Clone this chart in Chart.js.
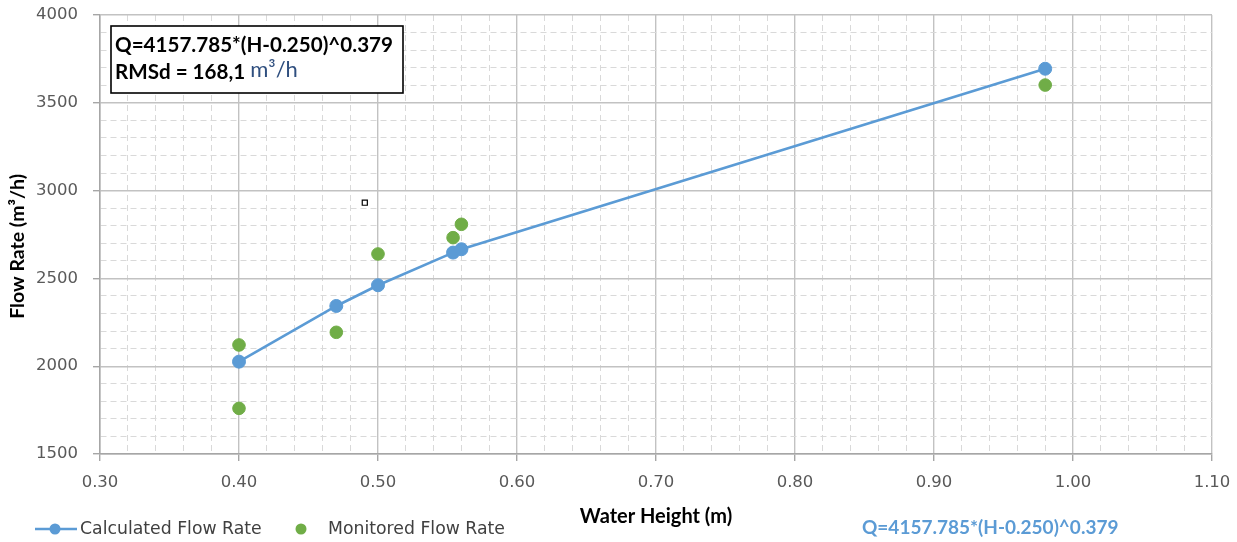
<!DOCTYPE html>
<html lang="en">
<head>
<meta charset="UTF-8">
<title>Flow Rate vs Water Height</title>
<script src="https://cdn.jsdelivr.net/npm/chart.js"></script>
<style>
  body { margin: 0; background: #fff; }
  #wrap { width: 1237px; height: 542px; }
</style>
</head>
<body>
<div id="wrap"><canvas id="flowChart" width="1237" height="542"></canvas></div>
<script>
// values
const calcHeight = [0.40, 0.47, 0.50, 0.554, 0.56, 0.98];
const calcFlow   = [2026, 2343, 2461, 2647, 2666, 3694];
const monHeight  = [0.40, 0.40, 0.47, 0.50, 0.554, 0.56, 0.98];
const monFlow    = [2121, 1760, 2193, 2639, 2732, 2808, 3601];
const strayHeight = [0.4905];
const strayFlow   = [2931];

const xMin = 0.30, xMax = 1.10, xMajor = 0.10, xMinor = 0.02;
const yMin = 1500, yMax = 4000, yMajor = 500, yMinor = 100;

const formula = 'Q=4157.785*(H-0.250)^0.379';
const rmsText = 'RMSd = 168,1';
const rmsUnit = 'm³/h';

const BLUE = '#5b9bd5';
const GREEN = '#70ad47';

const toPoints = (xs, ys) => xs.map((x, i) => ({ x: x, y: ys[i] }));
const isMajor = (v, step) => Math.abs(v / step - Math.round(v / step)) < 1e-6;

const gridFor = step => ({
    color: ctx => ctx.tick && isMajor(ctx.tick.value, step) ? '#c2c2c2' : '#d9d9d9',
    lineWidth: ctx => ctx.tick && isMajor(ctx.tick.value, step) ? 1.4 : 1,
    tickColor: ctx => ctx.tick && isMajor(ctx.tick.value, step) ? '#a6a6a6' : 'rgba(0,0,0,0)',
    tickLength: 7,
    drawTicks: true
});
const borderFor = step => ({
    color: '#a6a6a6',
    width: 1.5,
    dash: ctx => ctx.tick && !isMajor(ctx.tick.value, step) ? [6, 4] : []
});

// legend, formula text and the equation box
const extras = {
    id: 'extras',
    afterDraw(chart) {
        const c = chart.ctx;
        c.save();
        // legend
        c.lineWidth = 2.5;
        c.strokeStyle = BLUE;
        c.beginPath(); c.moveTo(35, 529); c.lineTo(77, 529); c.stroke();
        c.fillStyle = BLUE;
        c.beginPath(); c.arc(55, 529, 5.5, 0, Math.PI * 2); c.fill();
        c.fillStyle = GREEN;
        c.beginPath(); c.arc(301, 529, 5.5, 0, Math.PI * 2); c.fill();
        c.font = '17.3px "DejaVu Sans"';
        c.fillStyle = '#404040';
        c.textBaseline = 'middle';
        c.fillText('Calculated Flow Rate', 80, 530);
        c.fillText('Monitored Flow Rate', 328, 530);

        // formula under the axis
        c.font = 'bold 19px Lato';
        c.fillStyle = BLUE;
        c.fillText(formula, 862, 528);

        // equation box
        c.fillStyle = '#fff';
        c.fillRect(111, 26, 292, 67);
        c.lineWidth = 1.6;
        c.strokeStyle = '#000';
        c.strokeRect(111, 26, 292, 67);
        c.fillStyle = '#000';
        c.font = 'bold 20.6px Lato';
        c.fillText(formula, 115, 45);
        c.fillText(rmsText, 115, 72);
        const w = c.measureText(rmsText).width;
        c.font = '22px Lato';
        c.fillStyle = '#2f4f7f';
        c.fillText(rmsUnit, 115 + w + 5, 70);
        c.restore();
    }
};

new Chart(document.getElementById('flowChart'), {
    type: 'scatter',
    data: {
        datasets: [
            {
                label: 'Calculated Flow Rate',
                data: toPoints(calcHeight, calcFlow),
                showLine: true,
                borderColor: BLUE,
                backgroundColor: BLUE,
                borderWidth: 2.6,
                pointRadius: 6.5,
                pointBorderWidth: 1,
                pointBorderColor: BLUE,
                pointBackgroundColor: BLUE
            },
            {
                label: 'Monitored Flow Rate',
                data: toPoints(monHeight, monFlow),
                pointRadius: 6.3,
                pointBorderWidth: 1,
                pointBorderColor: GREEN,
                pointBackgroundColor: GREEN
            },
            {
                label: 'marker',
                data: toPoints(strayHeight, strayFlow),
                pointStyle: 'rect',
                pointRadius: 3.6,
                pointBorderWidth: 1.2,
                pointBorderColor: '#000',
                pointBackgroundColor: '#fff'
            }
        ]
    },
    options: {
        responsive: false,
        animation: false,
        layout: { padding: 0 },
        plugins: {
            legend: { display: false },
            tooltip: { enabled: false }
        },
        scales: {
            x: {
                type: 'linear',
                min: xMin,
                max: xMax,
                afterFit: s => { s.height = 88; s.paddingLeft = 0; s.paddingRight = 25; },
                ticks: {
                    stepSize: xMinor,
                    autoSkip: false,
                    maxRotation: 0,
                    padding: 12,
                    color: '#595959',
                    font: { family: 'DejaVu Sans', size: 16.5 },
                    callback: v => isMajor(v, xMajor) ? v.toFixed(2) : ''
                },
                grid: gridFor(xMajor),
                border: borderFor(xMajor),
                title: {
                    display: true,
                    text: 'Water Height (m)',
                    color: '#000',
                    font: { family: 'Lato', size: 20, weight: 'bold' },
                    padding: { top: 0, bottom: 13 }
                }
            },
            y: {
                type: 'linear',
                min: yMin,
                max: yMax,
                afterFit: s => { s.width = 100; s.paddingTop = 15; s.paddingBottom = 0; },
                ticks: {
                    stepSize: yMinor,
                    autoSkip: false,
                    padding: 15,
                    color: '#595959',
                    font: { family: 'DejaVu Sans', size: 16.5 },
                    callback: v => isMajor(v, yMajor) ? String(v) : ''
                },
                grid: gridFor(yMajor),
                border: borderFor(yMajor),
                title: {
                    display: true,
                    text: 'Flow Rate (m³/h)     ',
                    color: '#000',
                    font: { family: 'Lato', size: 19.5, weight: 'bold' },
                    padding: { top: 6, bottom: 0 }
                }
            }
        }
    },
    plugins: [extras]
});
</script>
</body>
</html>
